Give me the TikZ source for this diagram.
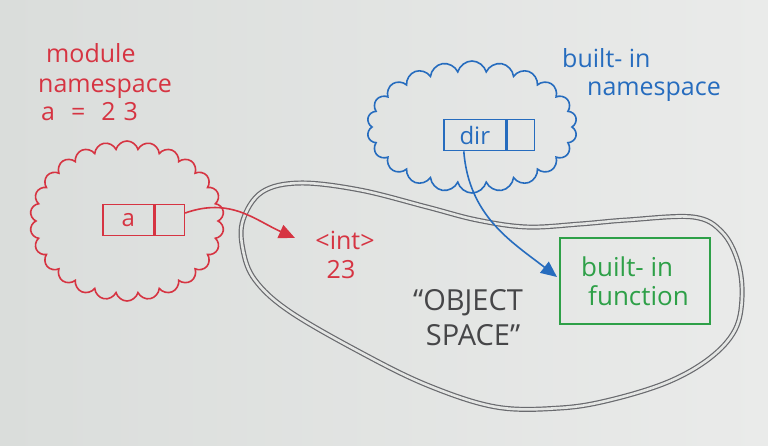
\documentclass[tikz,border=0pt]{standalone}
\usepackage{fontspec}
\setmainfont{Open Sans}
\usetikzlibrary{shapes.symbols,arrows.meta}
\definecolor{paperL}{RGB}{218,221,219}
\definecolor{paperR}{RGB}{234,235,234}
\definecolor{paper}{RGB}{228,230,228}
\definecolor{pred}{RGB}{214,52,66}
\definecolor{pblue}{RGB}{38,108,190}
\definecolor{pgreen}{RGB}{46,160,72}
\definecolor{pgray}{RGB}{105,106,110}
\definecolor{pdark}{RGB}{70,70,72}
\tikzset{
 hand/.style={font=\fontsize{25}{30}\selectfont, inner sep=0pt},
 cloudbox/.style={cloud, cloud puffs=#1, cloud ignores aspect, draw, line width=1.6pt, inner sep=0pt},
 slot/.style={draw, line width=1.6pt, minimum height=31pt, inner sep=0pt, anchor=west, font=\fontsize{24}{28}\selectfont},
 tipline/.style={-{Triangle[length=16pt,width=14pt]}, line width=1.6pt},
 blob/.style={pgray, line width=1.2pt, double=paper, double distance=2.6pt},
}
\begin{document}
\begin{tikzpicture}[x=1pt,y=-1pt]
\shade[left color=paperL, right color=paperR] (0,0) rectangle (768,445);
\useasboundingbox (0,0) rectangle (768,445);
% object space blob
\draw[blob] plot[smooth cycle, tension=0.6] coordinates {
 (243,220) (262,192) (300,183) (360,190) (427,207) (477,220) (527,227)
 (580,224) (627,220) (693,217) (722,232) (738,262) (742,297) (735,330)
 (710,358) (668,382) (610,400) (560,408) (496,407) (427,385) (358,351)
 (289,311) (255,280) (243,250)};
% module namespace
\node[hand, pred, anchor=base west] (modt) at (46,62) {module};
\node[hand, pred, anchor=base west] (nst) at (38,92) {namespace};
\node[hand, pred, anchor=base west] (aeq) at (41,120) {a\hspace{16pt}=\hspace{16pt}2\hspace{8pt}3};
\node[cloudbox=26, pred, minimum width=194pt, minimum height=160pt] (redcloud) at (127,221) {};
\node[slot, pred, minimum width=51pt] (akey) at (102,220) {a};
\node[slot, pred, minimum width=29pt] (aval) at (akey.east) {};
% int object
\node[hand, pred, anchor=base] (intt) at (345,249) {<int>};
\node[hand, pred, anchor=base] (numt) at (341,278) {23};
\coordinate (redtip) at (295,238);
\draw[tipline, pred] ([yshift=7pt]aval.east) .. controls +(45,-16) and +(-40,-18) .. (redtip);
% built-in namespace
\node[hand, pblue, anchor=base west] (bit) at (562,67) {built- in};
\node[hand, pblue, anchor=base west] (bnst) at (587,95) {namespace};
\node[cloudbox=22, pblue, minimum width=210pt, minimum height=132pt] (bluecloud) at (472,127) {};
\node[slot, pblue, minimum width=62pt] (dirkey) at (443,135) {dir};
\node[slot, pblue, minimum width=27pt] (dirval) at (dirkey.east) {};
% built-in function
\node[draw, pgreen, line width=1.6pt, minimum width=150pt, minimum height=86pt,
 align=left, font=\fontsize{26}{29}\selectfont] (func) at (635,281) {built- in\\\hspace*{7pt}function};
\coordinate (bluetip) at (557,277);
\draw[tipline, pblue] ([xshift=-11pt]dirkey.south) .. controls +(5,65) and +(-45,-35) .. (bluetip);
% object space label
\node[pdark, align=center, font=\fontsize{29}{35}\selectfont, inner sep=0pt] (objt) at (468,318) {“OBJECT\\\hspace*{10pt}SPACE”};
\end{tikzpicture}
\end{document}
